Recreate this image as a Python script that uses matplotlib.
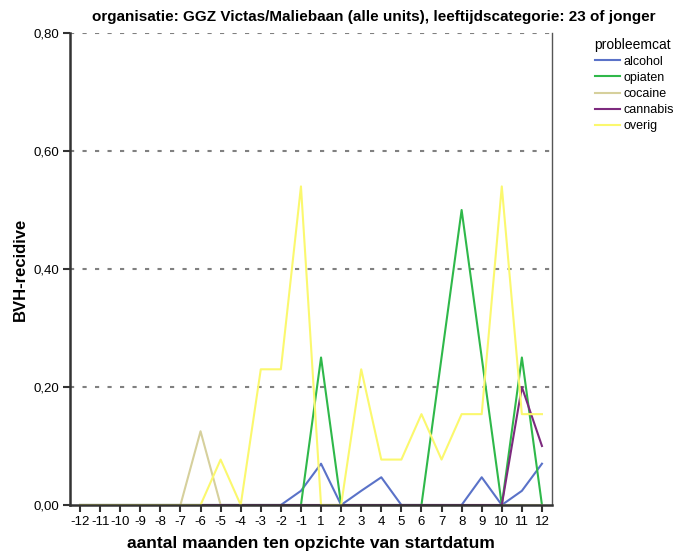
import numpy as np
import matplotlib.pyplot as plt

plt.rcParams['font.family'] = ['Liberation Sans', 'DejaVu Sans']

months = ['-12', '-11', '-10', '-9', '-8', '-7', '-6', '-5', '-4', '-3', '-2', '-1',
          '1', '2', '3', '4', '5', '6', '7', '8', '9', '10', '11', '12']

alcohol = [0, 0, 0, 0, 0, 0, 0, 0, 0, 0, 0, 0.024,
           0.07, 0, 0.024, 0.047, 0, 0, 0, 0, 0.047, 0, 0.024, 0.07]
opiaten = [0, 0, 0, 0, 0, 0, 0, 0, 0, 0, 0, 0,
           0.25, 0, 0, 0, 0, 0, 0.25, 0.5, 0.25, 0, 0.25, 0]
cocaine = [0, 0, 0, 0, 0, 0, 0.125, 0, 0, 0, 0, 0,
           0, 0, 0, 0, 0, 0, 0, 0, 0, 0, 0, 0]
cannabis = [0, 0, 0, 0, 0, 0, 0, 0, 0, 0, 0, 0,
            0, 0, 0, 0, 0, 0, 0, 0, 0, 0, 0.2, 0.1]
overig = [0, 0, 0, 0, 0, 0, 0, 0.077, 0, 0.23, 0.23, 0.54,
          0, 0, 0.23, 0.077, 0.077, 0.154, 0.077, 0.154, 0.154, 0.54, 0.154, 0.154]

series = [('alcohol', alcohol, '#5a72c8'),
          ('opiaten', opiaten, '#2fb84a'),
          ('cocaine', cocaine, '#d6d09c'),
          ('cannabis', cannabis, '#7d2a7e'),
          ('overig', overig, '#fbf86e')]

fig = plt.figure(figsize=(6.87, 5.6), dpi=100)
ax = fig.add_axes([70 / 687, 55 / 560, 482 / 687, 472 / 560])

x = np.arange(len(months))
for name, vals, col in series:
    ax.plot(x, vals, color=col, lw=1.5, label=name)

ax.set_xlim(-0.5, len(months) - 0.5)
ax.set_ylim(0, 0.8)
ax.set_xticks(x)
ax.set_xticklabels(months, fontsize=9.5)
yt = [0, 0.2, 0.4, 0.6, 0.8]
ax.set_yticks(yt)
ax.set_yticklabels([('%.2f' % v).replace('.', ',') for v in yt], fontsize=9.5)
for v in yt[1:]:
    ax.axhline(v, color='#808080', lw=1.5, ls=(0, (2, 4)), zorder=0)

for s in ['left', 'bottom']:
    ax.spines[s].set_linewidth(1.8)
    ax.spines[s].set_color('#333333')
ax.spines['top'].set_visible(False)
ax.spines['right'].set_color('#555555')
ax.spines['right'].set_linewidth(1)
ax.tick_params(axis='both', length=5, width=1.5, color='#333333', pad=3)

ax.set_ylabel('BVH-recidive', fontsize=12, fontweight='bold', labelpad=4)
ax.set_xlabel('aantal maanden ten opzichte van startdatum', fontsize=12.5,
              fontweight='bold', labelpad=6)

fig.text(374 / 687, 1 - 17 / 560,
         'organisatie: GGZ Victas/Maliebaan (alle units), leeftijdscategorie: 23 of jonger',
         ha='center', va='center', fontsize=11, fontweight='bold')

leg = fig.legend(loc='upper left', bbox_to_anchor=(592 / 687, 1 - 35 / 560),
                 frameon=False, title='probleemcat', fontsize=9,
                 title_fontsize=10, handlelength=2.0, handletextpad=0.35,
                 labelspacing=0.33, alignment='left', borderaxespad=0,
                 borderpad=0.2)

fig.savefig('out.png', dpi=100)
